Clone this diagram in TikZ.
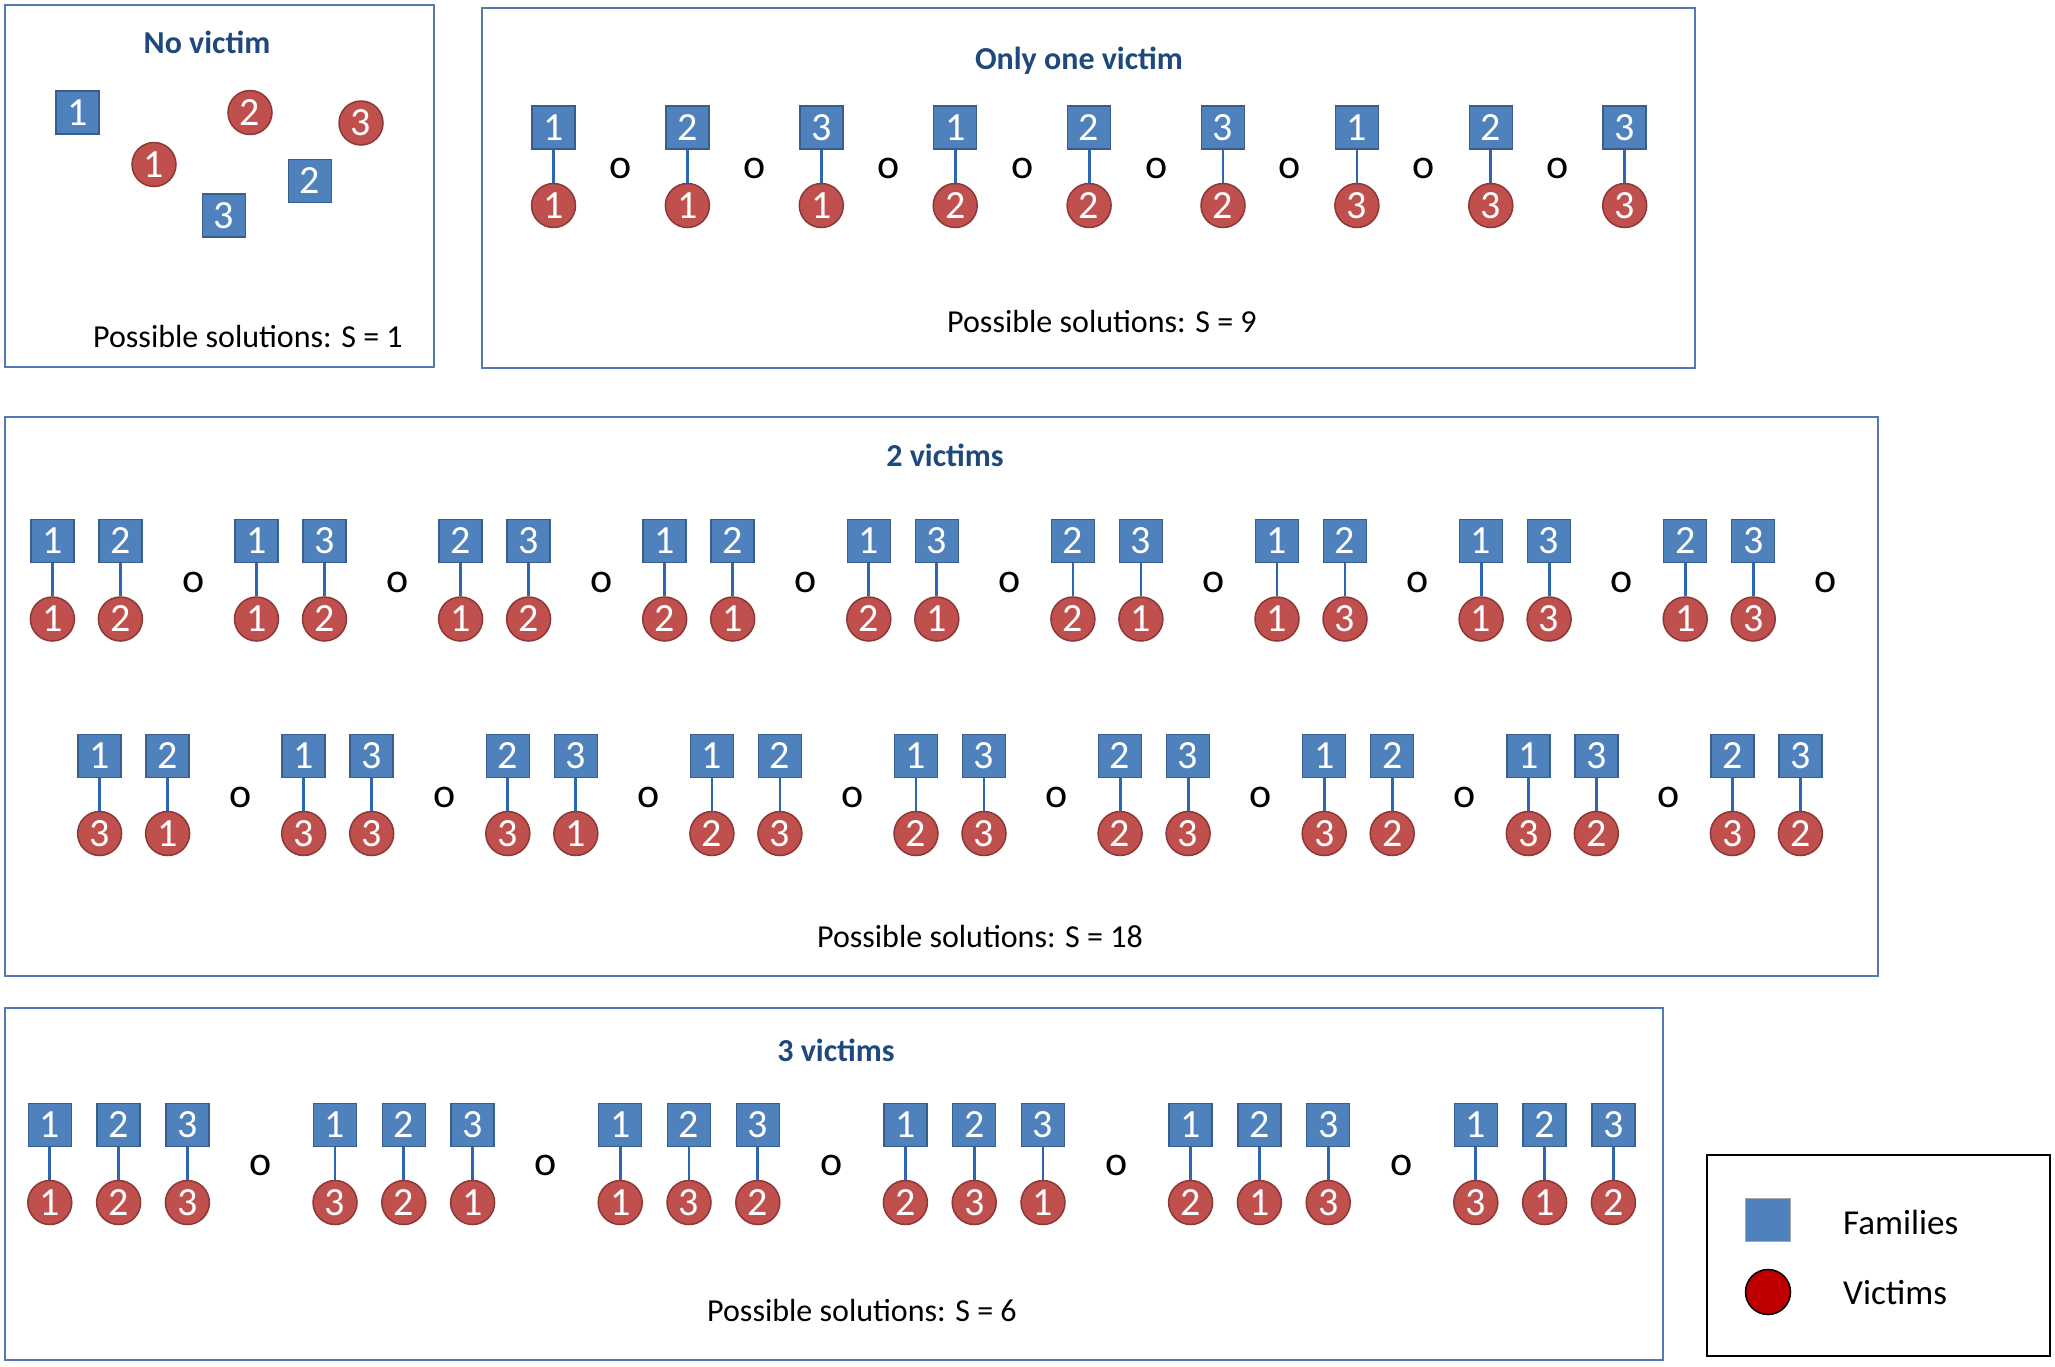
\documentclass[tikz,border=0pt]{standalone}
\usepackage{fontspec}
\setmainfont{Carlito}
\definecolor{famfill}{HTML}{4F81BD}
\definecolor{famdraw}{HTML}{385D8A}
\definecolor{vicfill}{HTML}{C0504D}
\definecolor{vicdraw}{HTML}{8C3836}
\definecolor{linkc}{HTML}{2E67B1}
\definecolor{boxc}{HTML}{5479AE}
\definecolor{titlec}{HTML}{1F497D}
\definecolor{legred}{HTML}{C00000}
\begin{document}
\begin{tikzpicture}[x=1pt,y=-1pt,
  fam/.style={draw=famdraw, fill=famfill, line width=1.5pt, minimum size=43pt, inner sep=0pt, text=white, font=\fontsize{40}{40}\selectfont},
  vic/.style={circle, draw=vicdraw, fill=vicfill, line width=1.5pt, minimum size=44pt, inner sep=0pt, text=white, font=\fontsize{40}{40}\selectfont},
  link/.style={draw=linkc, line width=2.8pt},
  panel/.style={draw=boxc, line width=2pt, inner sep=0pt},
  legpanel/.style={draw=black, line width=2pt, inner sep=0pt},
  ttl/.style={font=\fontsize{32}{32}\selectfont\bfseries, text=titlec, anchor=base, inner sep=0pt},
  captext/.style={font=\fontsize{32}{32}\selectfont, anchor=base, inner sep=0pt},
  sepo/.style={font=\fontsize{42}{42}\selectfont, inner sep=0pt},
  legtext/.style={font=\fontsize{35}{35}\selectfont, anchor=west, inner sep=0pt}
]
\useasboundingbox (0,0) rectangle (2055,1366);

% panels
\node[panel, minimum width=429pt, minimum height=362pt] (p1) at (219.5,186) {};
\node[panel, minimum width=1213pt, minimum height=360pt] (p2) at (1088.5,188) {};
\node[panel, minimum width=1873pt, minimum height=559pt] (p3) at (941.5,696.5) {};
\node[panel, minimum width=1658pt, minimum height=352pt] (p4) at (834,1184) {};
\node[legpanel, minimum width=343pt, minimum height=201pt] (p5) at (1878.5,1255.5) {};

% titles and captions
\node[ttl] (t1) at (207,53) {No victim};
\node[ttl] (t2) at (1079,69) {Only one victim};
\node[ttl] (t3) at (945,466) {2 victims};
\node[ttl] (t4) at (836,1061) {3 victims};
\node[captext] (c1) at (248,347) {Possible solutions: S = 1};
\node[captext] (c2) at (1102,332) {Possible solutions: S = 9};
\node[captext] (c3) at (980,947) {Possible solutions: S = 18};
\node[captext] (c4) at (862,1321) {Possible solutions: S = 6};

% box 1: no victim
\node[fam] (n1s1) at (77.5,112.5) {1};
\node[vic] (n1c2) at (250,112.5) {2};
\node[vic] (n1c3) at (361,123) {3};
\node[vic] (n1c1) at (154,164.5) {1};
\node[fam] (n1s2) at (310,181) {2};
\node[fam] (n1s3) at (224,215.5) {3};

% box 2: one victim
\foreach \i/\f/\v in {0/1/1,1/2/1,2/3/1,3/1/2,4/2/2,5/3/2,6/1/3,7/2/3,8/3/3} {
  \node[fam] (b2s\i) at ({553.5+133.9*\i},127.5) {\f};
  \node[vic] (b2c\i) at ({553.5+133.9*\i},205.5) {\v};
  \draw[link] (b2s\i) -- (b2c\i);
}
\foreach \i in {0,...,7} \node[sepo] (b2o\i) at ({620.5+133.9*\i},168) {o};

% box 3: two victims, row 1
\foreach \g/\a/\b/\c/\d in {0/1/2/1/2,1/1/3/1/2,2/2/3/1/2,3/1/2/2/1,4/1/3/2/1,5/2/3/2/1,6/1/2/1/3,7/1/3/1/3,8/2/3/1/3} {
  \node[fam] (r1sa\g) at ({52.4+204.1*\g},541) {\a};
  \node[fam] (r1sb\g) at ({120.4+204.1*\g},541) {\b};
  \node[vic] (r1ca\g) at ({52.4+204.1*\g},619) {\c};
  \node[vic] (r1cb\g) at ({120.4+204.1*\g},619) {\d};
  \draw[link] (r1sa\g) -- (r1ca\g);
  \draw[link] (r1sb\g) -- (r1cb\g);
}
\foreach \i in {0,...,8} \node[sepo] (r1o\i) at ({194+204*\i},582) {o};

% box 3: row 2
\foreach \g/\a/\b/\c/\d in {0/1/2/3/1,1/1/3/3/3,2/2/3/3/1,3/1/2/2/3,4/1/3/2/3,5/2/3/2/3,6/1/2/3/2,7/1/3/3/2,8/2/3/3/2} {
  \node[fam] (r2sa\g) at ({99.6+204.1*\g},756) {\a};
  \node[fam] (r2sb\g) at ({167.6+204.1*\g},756) {\b};
  \node[vic] (r2ca\g) at ({99.6+204.1*\g},833.5) {\c};
  \node[vic] (r2cb\g) at ({167.6+204.1*\g},833.5) {\d};
  \draw[link] (r2sa\g) -- (r2ca\g);
  \draw[link] (r2sb\g) -- (r2cb\g);
}
\foreach \i in {0,...,7} \node[sepo] (r2o\i) at ({241+204*\i},797) {o};

% box 4: three victims
\foreach \g/\a/\b/\c in {0/1/2/3,1/3/2/1,2/1/3/2,3/2/3/1,4/2/1/3,5/3/1/2} {
  \node[fam] (q\g sa) at ({49.8+285.2*\g},1125) {1};
  \node[fam] (q\g sb) at ({118.6+285.2*\g},1125) {2};
  \node[fam] (q\g sc) at ({187.4+285.2*\g},1125) {3};
  \node[vic] (q\g ca) at ({49.8+285.2*\g},1202.5) {\a};
  \node[vic] (q\g cb) at ({118.6+285.2*\g},1202.5) {\b};
  \node[vic] (q\g cc) at ({187.4+285.2*\g},1202.5) {\c};
  \draw[link] (q\g sa) -- (q\g ca);
  \draw[link] (q\g sb) -- (q\g cb);
  \draw[link] (q\g sc) -- (q\g cc);
}
\foreach \i in {0,...,4} \node[sepo] (qo\i) at ({260.8+285.2*\i},1165) {o};

% legend
\node[draw=gray!70, fill=famfill, line width=1.2pt, minimum width=45pt, minimum height=43pt, inner sep=0pt] (lf) at (1768,1220) {};
\node[circle, draw=black, fill=legred, line width=1.5pt, minimum size=45pt, inner sep=0pt] (lv) at (1768,1292) {};
\node[legtext] (lft) at (1843,1222) {Families};
\node[legtext] (lvt) at (1843,1293) {Victims};
\end{tikzpicture}
\end{document}
